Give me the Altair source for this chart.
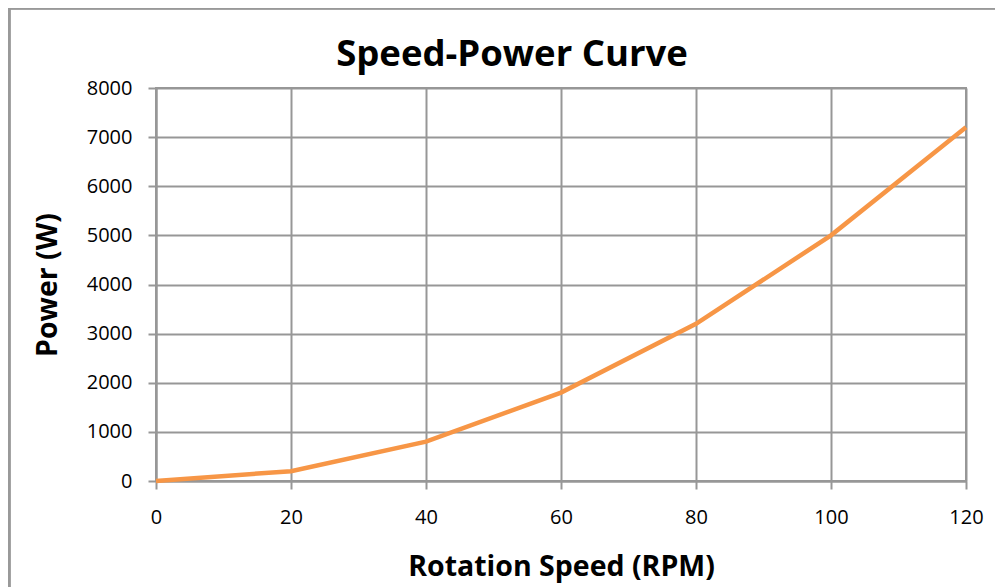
import altair as alt
import pandas as pd

speed_rpm = [0, 20, 40, 60, 80, 100, 120]
power_w = [0, 200, 800, 1800, 3200, 5000, 7200]

df = pd.DataFrame({"speed": speed_rpm, "power": power_w})

GRID = "#979797"
FONT = "Open Sans"

line = alt.Chart(df).mark_line(color="#F79646", strokeWidth=4.5).encode(
    x=alt.X(
        "speed:Q",
        scale=alt.Scale(domain=[0, 120], nice=False, zero=False),
        axis=alt.Axis(
            values=[0, 20, 40, 60, 80, 100, 120],
            format="d",
            labelFlush=False,
            title="Rotation Speed (RPM)",
            titleY=94,
            titleBaseline="alphabetic",
            labelPadding=18,
        ),
    ),
    y=alt.Y(
        "power:Q",
        scale=alt.Scale(domain=[0, 8000], nice=False),
        axis=alt.Axis(
            values=[0, 1000, 2000, 3000, 4000, 5000, 6000, 7000, 8000],
            format="d",
            labelFlush=False,
            title="Power (W)",
            titleX=-100,
            titleBaseline="alphabetic",
            labelPadding=16,
        ),
    ),
)

frame = alt.Chart(df).mark_rect(
    fill=None, stroke="#999999", strokeWidth=2.5, clip=False
).encode(
    x=alt.value(-147), x2=alt.value(850), y=alt.value(-80), y2=alt.value(510)
)

chart = (
    alt.layer(frame, line)
    .properties(
        width=810,
        height=393,
        autosize=alt.AutoSizeParams(type="none"),
        padding={"left": 148, "top": 80, "right": 29, "bottom": 106},
        title=alt.TitleParams(
            "Speed-Power Curve",
            font=FONT,
            fontSize=36.5,
            fontWeight="bold",
            color="#000000",
            anchor="middle",
            frame="group",
            baseline="alphabetic",
            offset=-96,
            dx=-49,
        ),
    )
    .configure_view(stroke=GRID, strokeWidth=2)
    .configure_axis(
        grid=True,
        gridColor=GRID,
        gridWidth=2,
        gridOpacity=1,
        domainColor=GRID,
        domainWidth=2,
        tickColor=GRID,
        tickWidth=2,
        tickSize=8,
        labelFont=FONT,
        labelFontSize=20,
        labelColor="#000000",
        titleFont=FONT,
        titleFontSize=28.5,
        titleFontWeight="bold",
        titleColor="#000000",
    )
)

chart.save("out.html", embed_options={"renderer": "svg", "actions": False})
